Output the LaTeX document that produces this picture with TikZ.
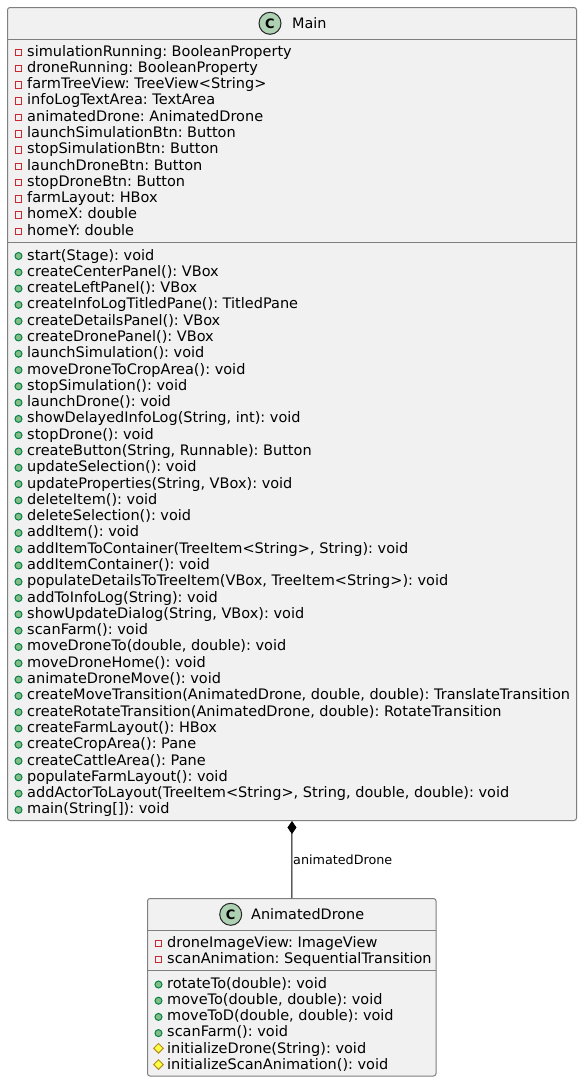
\documentclass[tikz,border=0pt]{standalone}
\usepackage{fontspec}
\setmainfont{DejaVu Sans}
\usetikzlibrary{shapes.geometric,arrows.meta}
\frenchspacing
\definecolor{boxfill}{HTML}{F1F1F1}
\definecolor{boxline}{HTML}{7F7F7F}
\definecolor{spot}{HTML}{ADD1B2}
\definecolor{privc}{HTML}{C82930}
\definecolor{pubf}{HTML}{84BE84}
\definecolor{pubd}{HTML}{038048}
\definecolor{protf}{HTML}{FFFF44}
\definecolor{protd}{HTML}{B38D22}
\tikzset{
  classbox/.style={draw=boxline,fill=boxfill,line width=1pt,rounded corners=2.5pt,inner sep=0pt,minimum width=#1},
  sepline/.style={draw=boxline,line width=1pt},
  rowtext/.style={anchor=base west,inner sep=0pt,font=\fontsize{14.5}{16}\selectfont\frenchspacing,text=black},
  titletext/.style={anchor=base west,inner sep=0pt,font=\fontsize{14.4}{16}\selectfont,text=black},
  spotc/.style={circle,draw=black!85,fill=spot,line width=1pt,minimum size=22pt,inner sep=0pt,font=\fontsize{13}{13}\bfseries\selectfont},
  privicon/.style={rectangle,draw=privc,line width=1pt,minimum size=6.5pt,inner sep=0pt},
  pubicon/.style={circle,draw=pubd,fill=pubf,line width=1pt,minimum size=7pt,inner sep=0pt},
  proticon/.style={diamond,draw=protd,fill=protf,line width=1pt,minimum size=10pt,inner sep=0pt},
  linklabel/.style={inner sep=0pt,font=\fontsize{12.75}{15}\selectfont,text=black}
}
\begin{document}
\begin{tikzpicture}[x=1pt,y=-1pt]
\useasboundingbox (0,0) rectangle (582,1082);
\fill[white] (0,0) rectangle (582,1082);
% Main
\node[classbox=569pt,minimum height=813pt] (main) at (292,414) {};
\draw[sepline] (7.5,39.5) -- (576.5,39.5);
\draw[sepline] (7.5,242.5) -- (576.5,242.5);
\node[spotc] (mainspot) at (270,23.3) {C};
\node[titletext] (maintitle) at (292,28) {Main};
\foreach \t [count=\i] in {
 {simulationRunning: BooleanProperty},{droneRunning: BooleanProperty},{farmTreeView: TreeView<String>},{infoLogTextArea: TextArea},{animatedDrone: AnimatedDrone},{launchSimulationBtn: Button},{stopSimulationBtn: Button},{launchDroneBtn: Button},{stopDroneBtn: Button},{farmLayout: HBox},{homeX: double},{homeY: double}}{
  \node[privicon] (mai\i) at (18.5,{52.3+(\i-1)*16.29}) {};
  \node[rowtext] (mat\i) at (27,{56+(\i-1)*16.29}) {\t};
}
\foreach \t [count=\i] in {
 {start(Stage): void},{createCenterPanel(): VBox},{createLeftPanel(): VBox},{createInfoLogTitledPane(): TitledPane},{createDetailsPanel(): VBox},{createDronePanel(): VBox},{launchSimulation(): void},{moveDroneToCropArea(): void},{stopSimulation(): void},{launchDrone(): void},{showDelayedInfoLog(String, int): void},{stopDrone(): void},{createButton(String, Runnable): Button},{updateSelection(): void},{updateProperties(String, VBox): void},{deleteItem(): void},{deleteSelection(): void},{addItem(): void},{addItemToContainer(TreeItem<String>, String): void},{addItemContainer(): void},{populateDetailsToTreeItem(VBox, TreeItem<String>): void},{addToInfoLog(String): void},{showUpdateDialog(String, VBox): void},{scanFarm(): void},{moveDroneTo(double, double): void},{moveDroneHome(): void},{animateDroneMove(): void},{createMoveTransition(AnimatedDrone, double, double): TranslateTransition},{createRotateTransition(AnimatedDrone, double): RotateTransition},{createFarmLayout(): HBox},{createCropArea(): Pane},{createCattleArea(): Pane},{populateFarmLayout(): void},{addActorToLayout(TreeItem<String>, String, double, double): void},{main(String[]): void}}{
  \node[pubicon] (mmi\i) at (18.5,{256+(\i-1)*16.29}) {};
  \node[rowtext] (mmt\i) at (27,{260+(\i-1)*16.29}) {\t};
}
% AnimatedDrone
\node[classbox=288.5pt,minimum height=177.5pt] (drone) at (291.75,987.25) {};
\draw[sepline] (147.5,930.5) -- (436,930.5);
\draw[sepline] (147.5,970.5) -- (436,970.5);
\node[spotc] (dronespot) at (230.7,914.3) {C};
\node[titletext] (dronetitle) at (251,919) {AnimatedDrone};
\foreach \t [count=\i] in {{droneImageView: ImageView},{scanAnimation: SequentialTransition}}{
  \node[privicon] (dai\i) at (158.5,{943.3+(\i-1)*16.2}) {};
  \node[rowtext] (dat\i) at (167,{947+(\i-1)*16.2}) {\t};
}
\foreach \t [count=\i] in {{rotateTo(double): void},{moveTo(double, double): void},{moveToD(double, double): void},{scanFarm(): void}}{
  \node[pubicon] (dmi\i) at (158.5,{984.5+(\i-1)*16.2}) {};
  \node[rowtext] (dmt\i) at (167,{988.3+(\i-1)*16.2}) {\t};
}
\foreach \t [count=\i] in {{initializeDrone(String): void},{initializeScanAnimation(): void}}{
  \node[proticon] (dpi\i) at (158.5,{1048.3+(\i-1)*16.2}) {};
  \node[rowtext] (dpt\i) at (167,{1053+(\i-1)*16.2}) {\t};
}
% Connector
\draw[black,line width=1pt,{Diamond[length=13pt,width=9pt,fill=black]}-] (main.south) -- (drone.north);
\node[linklabel,anchor=west] (linklbl) at (293,860) {animatedDrone};
\end{tikzpicture}
\end{document}
